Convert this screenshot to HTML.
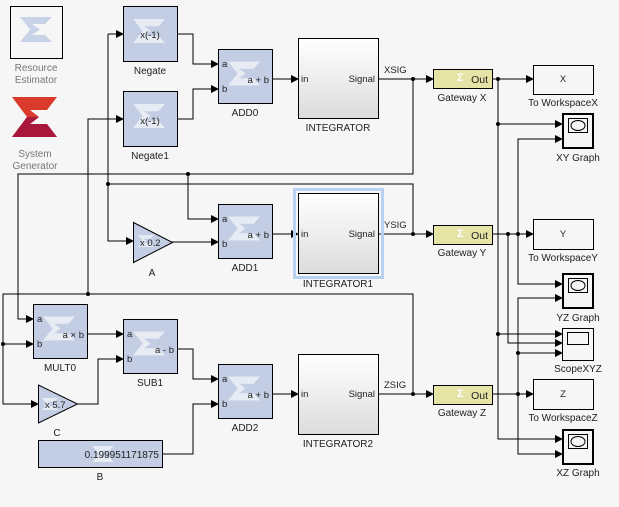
<!DOCTYPE html>
<html><head><meta charset="utf-8"><style>
html,body{margin:0;padding:0;background:#f6f6f6;}
svg{display:block;font-family:"Liberation Sans",sans-serif;}
.l{font-size:10px;fill:#222;text-anchor:middle}
.g{font-size:10px;fill:#777;text-anchor:middle}
.p{font-size:9.5px;fill:#222}
.blk{fill:#c3cde3;stroke:#000;stroke-width:1}
.w{fill:none;stroke:#000;stroke-width:1}
</style></head><body>
<svg width="619" height="507" viewBox="0 0 619 507">
<defs>
<marker id="a" markerWidth="8" markerHeight="8" refX="7" refY="4" orient="auto" markerUnits="userSpaceOnUse"><path d="M0,0 L8,4 L0,8 z" fill="#000"/></marker>
<linearGradient id="ig" x1="0" y1="0" x2="0" y2="1"><stop offset="0" stop-color="#ffffff"/><stop offset="1" stop-color="#dcdcdc"/></linearGradient>
<symbol id="sx" viewBox="0 0 40 30"><path d="M0,0 H40 L32,9 H14 L22,15 L14,21 H32 L40,30 H0 L12,15 Z" fill="#e6ebf4"/></symbol>
</defs>
<rect width="619" height="507" fill="#f6f6f6"/>

<!-- Resource estimator -->
<rect x="10.5" y="6.5" width="52" height="52" fill="#f6f6f6" stroke="#000"/>
<path d="M20,17 H52 L45,24 H32 L40,29.5 L32,35 H45 L52,42 H20 L30,29.5 Z" fill="#c9d3e8"/>
<text class="g" x="36" y="71">Resource</text><text class="g" x="36" y="83">Estimator</text>
<!-- System generator logo -->
<path d="M12,97 H57 L47,110 H30 L39,117 L30,124 H47 L57,137 H12 L27,117 Z" fill="#d93a2b"/>
<path d="M12,137 L27,117 L39,117 L30,124 H47 L57,137 Z" fill="#a8183a"/>
<text class="g" x="35" y="157">System</text><text class="g" x="35" y="169">Generator</text>

<!-- wires -->
<g class="w">
<polyline points="177,34 193,34 193,64 218,64" marker-end="url(#a)"/>
<polyline points="177,119 193,119 193,89 218,89" marker-end="url(#a)"/>
<line x1="272" y1="79" x2="298" y2="79" marker-end="url(#a)"/>
<line x1="378" y1="79" x2="433" y2="79" marker-end="url(#a)"/>
<polyline points="413,79 413,174 18,174 18,319 33,319" marker-end="url(#a)"/>
<polyline points="188,174 188,219 218,219" marker-end="url(#a)"/>
<polyline points="413,234 413,184 108,184"/>
<polyline points="108,34 108,241 133,241" marker-end="url(#a)"/>
<line x1="108" y1="34" x2="123" y2="34" marker-end="url(#a)"/>
<polyline points="413,394 413,294 3,294 3,404 38,404" marker-end="url(#a)"/>
<line x1="3" y1="344" x2="33" y2="344" marker-end="url(#a)"/>
<polyline points="88,294 88,119 123,119" marker-end="url(#a)"/>
<line x1="172" y1="242" x2="218" y2="242" marker-end="url(#a)"/>
<line x1="272" y1="234" x2="298" y2="234" marker-end="url(#a)"/>
<line x1="378" y1="234" x2="433" y2="234" marker-end="url(#a)"/>
<line x1="87" y1="334" x2="123" y2="334" marker-end="url(#a)"/>
<polyline points="77,404 98,404 98,359 123,359" marker-end="url(#a)"/>
<polyline points="177,349 193,349 193,379 218,379" marker-end="url(#a)"/>
<polyline points="162,454 193,454 193,404 218,404" marker-end="url(#a)"/>
<line x1="272" y1="394" x2="298" y2="394" marker-end="url(#a)"/>
<line x1="378" y1="394" x2="433" y2="394" marker-end="url(#a)"/>
<line x1="492" y1="79" x2="533" y2="79" marker-end="url(#a)"/>
<polyline points="498,79 498,439 562,439" marker-end="url(#a)"/>
<line x1="498" y1="124" x2="562" y2="124" marker-end="url(#a)"/>
<line x1="498" y1="334" x2="562" y2="334" marker-end="url(#a)"/>
<line x1="492" y1="234" x2="533" y2="234" marker-end="url(#a)"/>
<polyline points="508,234 508,343 562,343" marker-end="url(#a)"/>
<polyline points="562,139 518,139 518,284 562,284" marker-end="url(#a)"/>
<line x1="518" y1="139" x2="562" y2="139" marker-end="url(#a)"/>
<polyline points="562,298 518,298 518,454 562,454"/>
<line x1="518" y1="298" x2="562" y2="298" marker-end="url(#a)"/>
<line x1="518" y1="454" x2="562" y2="454" marker-end="url(#a)"/>
<line x1="518" y1="353" x2="562" y2="353" marker-end="url(#a)"/>
<line x1="492" y1="394" x2="533" y2="394" marker-end="url(#a)"/>
</g>
<g fill="#000">
<circle cx="413" cy="79" r="2"/><circle cx="188" cy="174" r="2"/><circle cx="108" cy="184" r="2"/>
<circle cx="413" cy="234" r="2"/><circle cx="88" cy="294" r="2"/><circle cx="3" cy="344" r="2"/>
<circle cx="413" cy="394" r="2"/><circle cx="498" cy="79" r="2"/><circle cx="498" cy="124" r="2"/>
<circle cx="498" cy="334" r="2"/><circle cx="508" cy="234" r="2"/><circle cx="518" cy="234" r="2"/>
<circle cx="518" cy="353" r="2"/><circle cx="518" cy="394" r="2"/>
</g>

<rect class="blk" x="123.5" y="6.5" width="54" height="55"/>
<use href="#sx" x="133" y="18" width="32" height="26"/>
<text class="p" x="150" y="38" text-anchor="middle">x(-1)</text>
<text class="l" x="150" y="74">Negate</text>
<rect class="blk" x="123.5" y="91.5" width="54" height="55"/>
<use href="#sx" x="133" y="103" width="32" height="26"/>
<text class="p" x="150" y="124" text-anchor="middle">x(-1)</text>
<text class="l" x="150" y="159">Negate1</text>

<rect class="blk" x="218.5" y="49.5" width="54" height="54"/>
<use href="#sx" x="228" y="60" width="32" height="27"/>
<text class="p" x="222" y="67">a</text><text class="p" x="222" y="92">b</text>
<text class="p" x="269" y="83" text-anchor="end">a + b</text>
<text class="l" x="245" y="116">ADD0</text>
<rect class="blk" x="218.5" y="204.5" width="54" height="54"/>
<use href="#sx" x="228" y="215" width="32" height="27"/>
<text class="p" x="222" y="222">a</text><text class="p" x="222" y="247">b</text>
<text class="p" x="269" y="238" text-anchor="end">a + b</text>
<text class="l" x="245" y="271">ADD1</text>
<rect class="blk" x="218.5" y="364.5" width="54" height="54"/>
<use href="#sx" x="228" y="375" width="32" height="27"/>
<text class="p" x="222" y="382">a</text><text class="p" x="222" y="407">b</text>
<text class="p" x="269" y="398" text-anchor="end">a + b</text>
<text class="l" x="245" y="431">ADD2</text>
<rect class="blk" x="33.5" y="304.5" width="54" height="54"/>
<use href="#sx" x="43" y="315" width="32" height="27"/>
<text class="p" x="37" y="322">a</text><text class="p" x="37" y="347">b</text>
<text class="p" x="84" y="338" text-anchor="end">a × b</text>
<text class="l" x="60" y="371">MULT0</text>
<rect class="blk" x="123.5" y="319.5" width="54" height="54"/>
<use href="#sx" x="133" y="330" width="32" height="27"/>
<text class="p" x="127" y="337">a</text><text class="p" x="127" y="362">b</text>
<text class="p" x="174" y="353" text-anchor="end">a - b</text>
<text class="l" x="150" y="386">SUB1</text>

<polygon points="133.5,222.5 133.5,262.5 172.5,242.5" class="blk"/>
<use href="#sx" x="138" y="234" width="16" height="14"/>
<text class="p" x="140" y="246">x 0.2</text>
<text class="l" x="152" y="276">A</text>
<polygon points="38.5,385 38.5,423 77.5,404" class="blk"/>
<use href="#sx" x="42" y="397" width="16" height="14"/>
<text class="p" x="45" y="408">x 5.7</text>
<text class="l" x="57" y="436">C</text>
<rect class="blk" x="38.5" y="440.5" width="124" height="27"/>
<use href="#sx" x="92" y="446" width="22" height="16"/>
<text class="p" x="159" y="458" text-anchor="end" style="font-size:10px">0.199951171875</text>
<text class="l" x="100" y="480">B</text>

<rect x="298.5" y="38.5" width="80" height="80" fill="url(#ig)" stroke="#000"/>
<text class="p" x="301" y="82">in</text><text class="p" x="375" y="82" text-anchor="end">Signal</text>
<text class="l" x="338" y="131">INTEGRATOR</text>
<rect x="294.5" y="189.5" width="88" height="88" fill="none" stroke="#b7d1ee" stroke-width="3"/>
<rect x="298.5" y="193.5" width="80" height="80" fill="url(#ig)" stroke="#000"/>
<text class="p" x="301" y="237">in</text><text class="p" x="375" y="237" text-anchor="end">Signal</text>
<text class="l" x="338" y="287">INTEGRATOR1</text>
<rect x="298.5" y="354.5" width="80" height="80" fill="url(#ig)" stroke="#000"/>
<text class="p" x="301" y="397">in</text><text class="p" x="375" y="397" text-anchor="end">Signal</text>
<text class="l" x="338" y="447">INTEGRATOR2</text>
<text class="p" x="384" y="73">XSIG</text>
<text class="p" x="384" y="228">YSIG</text>
<text class="p" x="384" y="388">ZSIG</text>

<rect x="433.5" y="69.5" width="59" height="19" fill="#e6e3a6" stroke="#000"/>
<text x="457" y="81" style="font-size:11px;fill:#fff;font-weight:bold">Σ</text>
<text class="p" x="488" y="83" text-anchor="end" style="font-size:10.5px">Out</text>
<text class="l" x="462" y="101">Gateway X</text>
<rect x="433.5" y="225.5" width="59" height="19" fill="#e6e3a6" stroke="#000"/>
<text x="457" y="237" style="font-size:11px;fill:#fff;font-weight:bold">Σ</text>
<text class="p" x="488" y="239" text-anchor="end" style="font-size:10.5px">Out</text>
<text class="l" x="462" y="256">Gateway Y</text>
<rect x="433.5" y="385.5" width="59" height="19" fill="#e6e3a6" stroke="#000"/>
<text x="457" y="397" style="font-size:11px;fill:#fff;font-weight:bold">Σ</text>
<text class="p" x="488" y="399" text-anchor="end" style="font-size:10.5px">Out</text>
<text class="l" x="462" y="416">Gateway Z</text>

<rect x="533.5" y="65.5" width="60" height="29" fill="#f6f6f6" stroke="#000"/>
<text class="p" x="563" y="82" text-anchor="middle">X</text>
<text class="l" x="563" y="106">To WorkspaceX</text>
<rect x="533.5" y="219.5" width="60" height="30" fill="#f6f6f6" stroke="#000"/>
<text class="p" x="563" y="237" text-anchor="middle">Y</text>
<text class="l" x="563" y="261">To WorkspaceY</text>
<rect x="533.5" y="379.5" width="60" height="30" fill="#f6f6f6" stroke="#000"/>
<text class="p" x="563" y="397" text-anchor="middle">Z</text>
<text class="l" x="563" y="421">To WorkspaceZ</text>

<rect x="563" y="114" width="30" height="34" fill="#f6f6f6" stroke="#000" stroke-width="2"/>
<rect x="568.5" y="118.5" width="19" height="14" fill="none" stroke="#000"/>
<ellipse cx="578" cy="125.5" rx="7" ry="5" fill="none" stroke="#000"/>
<text class="l" x="578" y="161">XY Graph</text>
<rect x="563" y="274" width="30" height="34" fill="#f6f6f6" stroke="#000" stroke-width="2"/>
<rect x="568.5" y="278.5" width="19" height="14" fill="none" stroke="#000"/>
<ellipse cx="578" cy="285.5" rx="7" ry="5" fill="none" stroke="#000"/>
<text class="l" x="578" y="321">YZ Graph</text>
<rect x="562.5" y="328.5" width="31" height="32" fill="#f6f6f6" stroke="#000"/>
<rect x="567.5" y="332.5" width="21" height="12" fill="none" stroke="#000"/>
<text class="l" x="578" y="372">ScopeXYZ</text>
<rect x="563" y="430" width="30" height="34" fill="#f6f6f6" stroke="#000" stroke-width="2"/>
<rect x="568.5" y="434.5" width="19" height="14" fill="none" stroke="#000"/>
<ellipse cx="578" cy="441.5" rx="7" ry="5" fill="none" stroke="#000"/>
<text class="l" x="578" y="476">XZ Graph</text>
</svg>
</body></html>
